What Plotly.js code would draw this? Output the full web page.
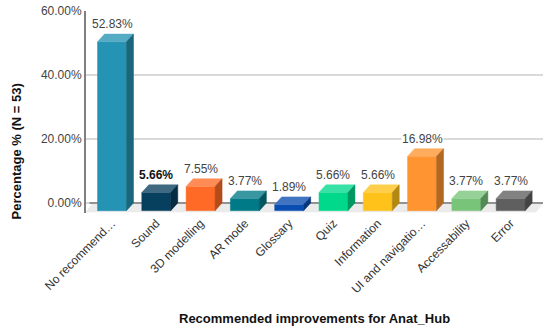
<!DOCTYPE html>
<html>
<head>
<meta charset="utf-8">
<script src="https://cdn.plot.ly/plotly-3.0.1.min.js"></script>
<style>html,body{margin:0;padding:0;background:#fff;}#chart{width:550px;height:332px;}</style>
</head>
<body>
<div id="chart"></div>
<script>
const categories = ["No recommend\u2026", "Sound", "3D modelling", "AR mode", "Glossary", "Quiz", "Information", "UI and navigatio\u2026", "Accessability", "Error"];
const values = [52.83, 5.66, 7.55, 3.77, 1.89, 5.66, 5.66, 16.98, 3.77, 3.77];
const barColors = ["#2593b3", "#073f5e", "#ff6b26", "#007a87", "#0a4db0", "#00d98b", "#ffc21a", "#ff9430", "#78c57a", "#5f5f5f"];
const yTicks = [0, 20, 40, 60];
const boldLabelIndex = 1;

// 3D geometry (in axis units)
const DX = 0.158, DY = 2.41, HALF = 0.327;
const XMIN = -0.587, XMAX = 9.73, YMIN = -3.15, YMAX = 60.05;

function mix(hex, target, f) {
  const n = parseInt(hex.slice(1), 16);
  const c = [(n >> 16) & 255, (n >> 8) & 255, n & 255].map(v => Math.round(v + (target - v) * f));
  return 'rgb(' + c.join(',') + ')';
}
function poly(xs, ys, color) {
  return {type: 'scatter', mode: 'lines', x: xs.concat([xs[0]]), y: ys.concat([ys[0]]),
    fill: 'toself', fillcolor: color, line: {color: color, width: 0.5}, hoverinfo: 'skip', showlegend: false};
}

const traces = [];
// floor
traces.push(poly([XMIN, XMIN + DX, XMAX, XMAX - DX], [-2.85, 0, 0, -2.85], '#ebebeb'));
// back zero line
traces.push({type: 'scatter', mode: 'lines', x: [XMIN + DX * 0.5, XMAX], y: [0, 0],
  line: {color: '#777777', width: 1.5}, hoverinfo: 'skip', showlegend: false});

values.forEach((v, i) => {
  const x0 = i - HALF, x1 = i + HALF;
  const c = barColors[i];
  // front
  traces.push(poly([x0, x1, x1, x0], [-DY, -DY, v - DY, v - DY], c));
  // top
  traces.push(poly([x0, x1, x1 + DX, x0 + DX], [v - DY, v - DY, v, v], mix(c, 255, 0.22)));
  // side
  traces.push(poly([x1, x1 + DX, x1 + DX, x1], [-DY, 0, v, v - DY], mix(c, 0, 0.3)));
});

const annotations = values.map((v, i) => ({
  x: i, y: v, xref: 'x', yref: 'y', yanchor: 'bottom', yshift: 2,
  text: i === boldLabelIndex ? '<b>' + v.toFixed(2) + '%</b>' : v.toFixed(2) + '%',
  showarrow: false, bgcolor: '#ffffff', borderpad: 0,
  font: {family: 'Arial, Liberation Sans, sans-serif', size: 12, color: i === boldLabelIndex ? '#111' : '#444'}
}));
annotations.push({
  xref: 'paper', yref: 'paper', x: 0.5, y: -0.52, xanchor: 'center', yanchor: 'middle',
  text: '<b>Recommended improvements for Anat_Hub</b>', showarrow: false,
  font: {family: 'Arial, Liberation Sans, sans-serif', size: 13, color: '#111'}
});
annotations.push({
  xref: 'paper', yref: 'paper', x: -0.153, y: 0.305, xanchor: 'center', yanchor: 'middle',
  textangle: -90, text: '<b>Percentage % (N = 53)</b>', showarrow: false,
  font: {family: 'Arial, Liberation Sans, sans-serif', size: 13, color: '#111'}
});

const layout = {
  width: 550, height: 332,
  margin: {l: 86, r: 7, t: 11, b: 119, pad: 0},
  paper_bgcolor: '#ffffff', plot_bgcolor: '#ffffff',
  showlegend: false,
  font: {family: 'Arial, Liberation Sans, sans-serif', size: 12, color: '#444'},
  xaxis: {
    type: 'linear', range: [XMIN, XMAX], tickmode: 'array',
    tickvals: categories.map((c, i) => i), ticktext: categories,
    tickangle: -45, showgrid: false, zeroline: false, showline: false, ticks: '',
    tickfont: {size: 12, color: '#333'}, fixedrange: true
  },
  yaxis: {
    range: [YMIN, YMAX], tickmode: 'array', tickvals: yTicks,
    ticktext: yTicks.map(t => t.toFixed(2) + '%'),
    showgrid: true, gridcolor: '#d9d9d9', gridwidth: 1.2, zeroline: false,
    showline: true, linecolor: '#7f7f7f', linewidth: 2, ticks: '',
    tickfont: {size: 12, color: '#444'}, fixedrange: true
  },
  annotations: annotations
};

Plotly.newPlot('chart', traces, layout, {displayModeBar: false, staticPlot: true});
</script>
</body>
</html>
